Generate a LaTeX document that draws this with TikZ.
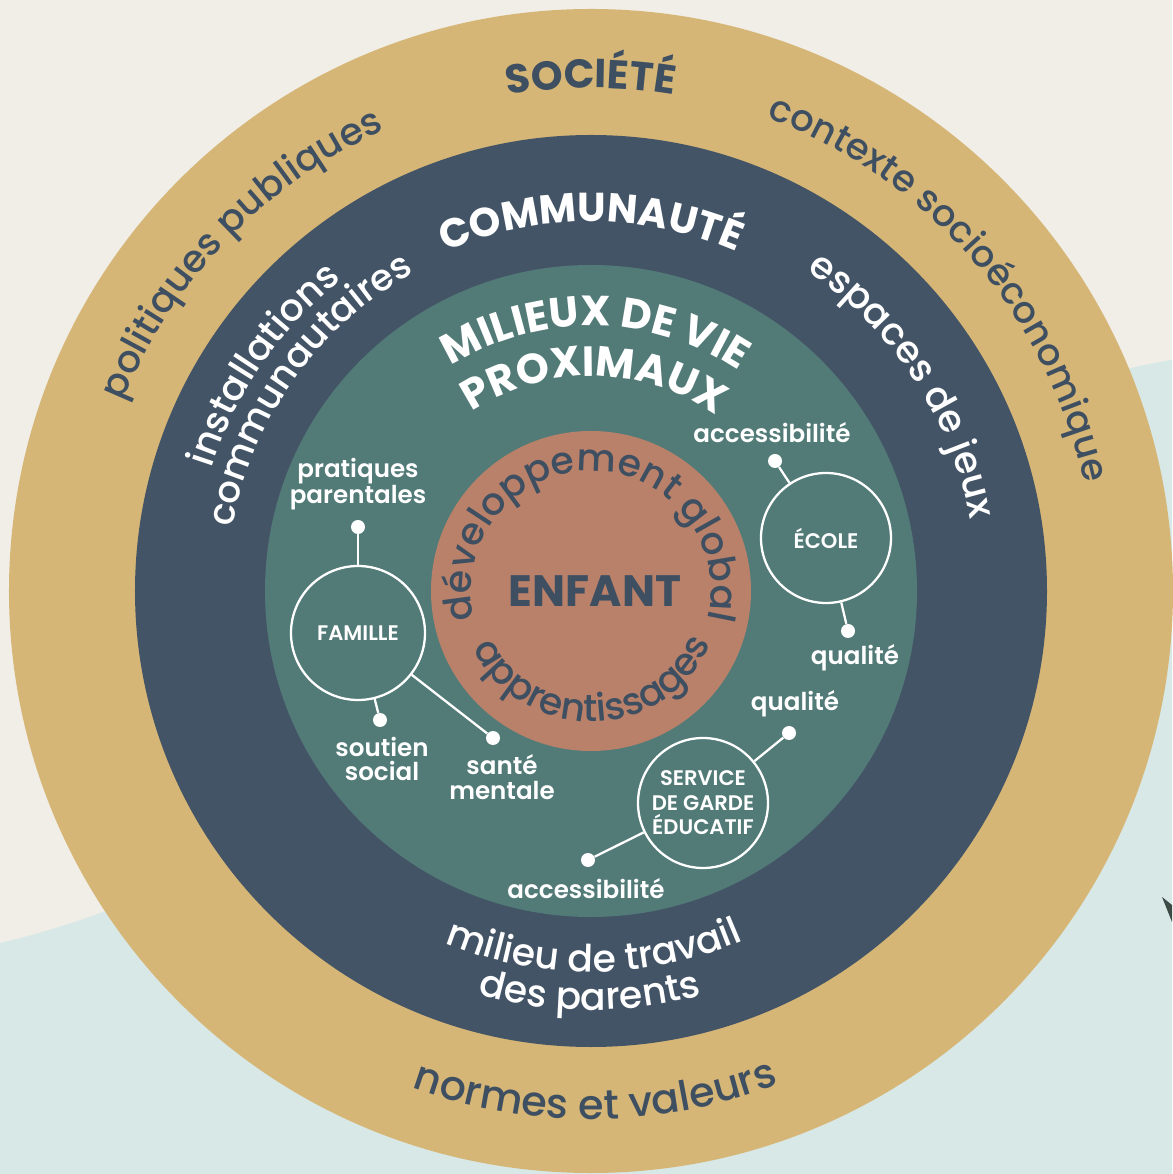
\documentclass[tikz,border=0pt]{standalone}
\usepackage{fontspec}
\setmainfont{Poppins Medium}[BoldFont={Poppins Bold}]
\newfontfamily\semib{Poppins SemiBold}
\usetikzlibrary{decorations.text}

\definecolor{bgbeige}{HTML}{F1EEE8}
\definecolor{bgblue}{HTML}{D8E8E6}
\definecolor{ringgold}{HTML}{D6B676}
\definecolor{ringnavy}{HTML}{435466}
\definecolor{ringteal}{HTML}{527B78}
\definecolor{ringclay}{HTML}{B98169}
\definecolor{ink}{HTML}{3E4F62}
\definecolor{leaf}{HTML}{3B4A45}

\newcommand{\sz}[1]{\fontsize{#1}{#1}\selectfont}

\begin{document}
\begin{tikzpicture}[
    ringtext/.style={decorate, decoration={text along path, text align=center, #1}},
    hub/.style={circle, draw=white, line width=1.3pt, minimum size=2.6cm, inner sep=0pt,
      text=white, align=center, font=\semib\fontsize{12}{14}\selectfont},
    pin/.style={circle, fill=white, minimum size=0.28cm, inner sep=0pt},
    tag/.style={text=white, align=center, inner sep=0pt, font=\semib\fontsize{14}{14}\selectfont},
    link/.style={white, line width=1.3pt}
  ]
    \def \rsoc {11.64} % society ring
    \def \rcom {9.12}
    \def \rmil {6.52}
    \def \renf {3.2}

    % backdrop
    \useasboundingbox (-11.82,-11.66) rectangle (11.62,11.82);
    \fill[bgbeige] (-11.82,-11.66) rectangle (11.62,11.82);
    \fill[bgblue] (-11.82,-7.04) .. controls (-3.82,-5.18) and (4.18,3.42) .. (11.62,4.62)
      -- (11.62,-11.66) -- (-11.82,-11.66) -- cycle;
    \fill[leaf] (11.42,-6.12) -- (11.62,-6.28) -- (11.62,-6.62) -- cycle;

    % rings
    \fill[ringgold] (0,0) circle (\rsoc);
    \fill[ringnavy] (0,0) circle (\rcom);
    \fill[ringteal] (0,0) circle (\rmil);
    \fill[ringclay] (0,0) circle (\renf);

    % society
    \path[ringtext={text={|\sz{23}\bfseries|SOCIÉTÉ}, text color=ink}]
      (150:10.06) arc[start angle=150, end angle=30, radius=10.06];
    \path[ringtext={text={|\sz{21.5}|politiques publiques}, text color=ink}]
      (196:10.1) arc[start angle=196, end angle=76, radius=10.1];
    \path[ringtext={text={|\sz{21}|contexte socioéconomique}, text color=ink}]
      (101:10.1) arc[start angle=101, end angle=-19, radius=10.1];
    \path[ringtext={text={|\sz{23.5}|normes et valeurs}, text color=ink}]
      (200.5:10.56) arc[start angle=200.5, end angle=340.5, radius=10.56];

    % community
    \path[ringtext={text={|\sz{23}\bfseries|COMMUNAUTÉ}, text color=white}]
      (150:7.38) arc[start angle=150, end angle=30, radius=7.38];
    \path[ringtext={text={|\sz{21.5}|installations}, text color=white}]
      (205.4:7.98) arc[start angle=205.4, end angle=85.4, radius=7.98];
    \path[ringtext={text={|\sz{21}|communautaires}, text color=white}]
      (204.5:7.28) arc[start angle=204.5, end angle=84.5, radius=7.28];
    \path[ringtext={text={|\sz{21.5}|espaces de jeux}, text color=white}]
      (93.4:7.72) arc[start angle=93.4, end angle=-26.6, radius=7.72];
    \path[ringtext={text={|\sz{21.5}|milieu de travail}, text color=white}]
      (200.5:7.62) arc[start angle=200.5, end angle=340.5, radius=7.62];
    \path[ringtext={text={|\sz{21.5}|des parents}, text color=white}]
      (199.8:8.38) arc[start angle=199.8, end angle=339.8, radius=8.38];

    % proximal settings
    \path[ringtext={text={|\sz{24}\bfseries|MILIEUX DE VIE}, text color=white}]
      (159:5.3) arc[start angle=159, end angle=19, radius=5.3];
    \path[ringtext={text={|\sz{24}\bfseries|PROXIMAUX}, text color=white}]
      (159:4.3) arc[start angle=159, end angle=19, radius=4.3];

    % child
    \path[ringtext={text={|\sz{21.5}|développement global}, text color=ink}]
      (210:2.4) arc[start angle=210, end angle=-30, radius=2.4];
    \path[ringtext={text={|\sz{21.5}|apprentissages}, text color=ink}]
      (171:2.62) arc[start angle=171, end angle=371, radius=2.62];
    \node[text=ink, font=\bfseries\sz{25}] (enfant) at (0.08,0) {ENFANT};

    % settings and their factors
    \node[hub, minimum size=2.68cm] (famille) at (-4.66,-0.84) {FAMILLE};
    \node[hub] (ecole) at (4.70,1.06) {ÉCOLE};
    \node[hub] (garde) at (2.24,-4.24) {SERVICE\\DE GARDE\\ÉDUCATIF};

    \node[pin] (pratiques) at (-4.66,1.28) {};
    \node[pin] (soutien) at (-4.22,-2.58) {};
    \node[pin] (sante) at (-1.96,-2.94) {};
    \node[pin] (ecoleacc) at (3.68,2.60) {};
    \node[pin] (ecolequal) at (5.14,-0.80) {};
    \node[pin] (gardequal) at (3.96,-2.84) {};
    \node[pin] (gardeacc) at (-0.06,-5.38) {};

    \draw[link] (famille) -- (pratiques);
    \draw[link] (famille) -- (soutien);
    \draw[link] (famille) -- (sante);
    \draw[link] (ecole) -- (ecoleacc);
    \draw[link] (ecole) -- (ecolequal);
    \draw[link] (garde) -- (gardequal);
    \draw[link] (garde) -- (gardeacc);

    \node[tag] (pratiqueslbl) at (-4.66,2.14) {pratiques\\parentales};
    \node[tag] (soutienlbl) at (-4.18,-3.36) {soutien\\social};
    \node[tag] (santelbl) at (-1.78,-3.72) {santé\\mentale};
    \node[tag] (ecoleacclbl) at (3.62,3.16) {accessibilité};
    \node[tag] (ecolequallbl) at (5.28,-1.34) {qualité};
    \node[tag] (gardequallbl) at (4.08,-2.26) {qualité};
    \node[tag] (gardeacclbl) at (-0.10,-5.96) {accessibilité};
\end{tikzpicture}
\end{document}
